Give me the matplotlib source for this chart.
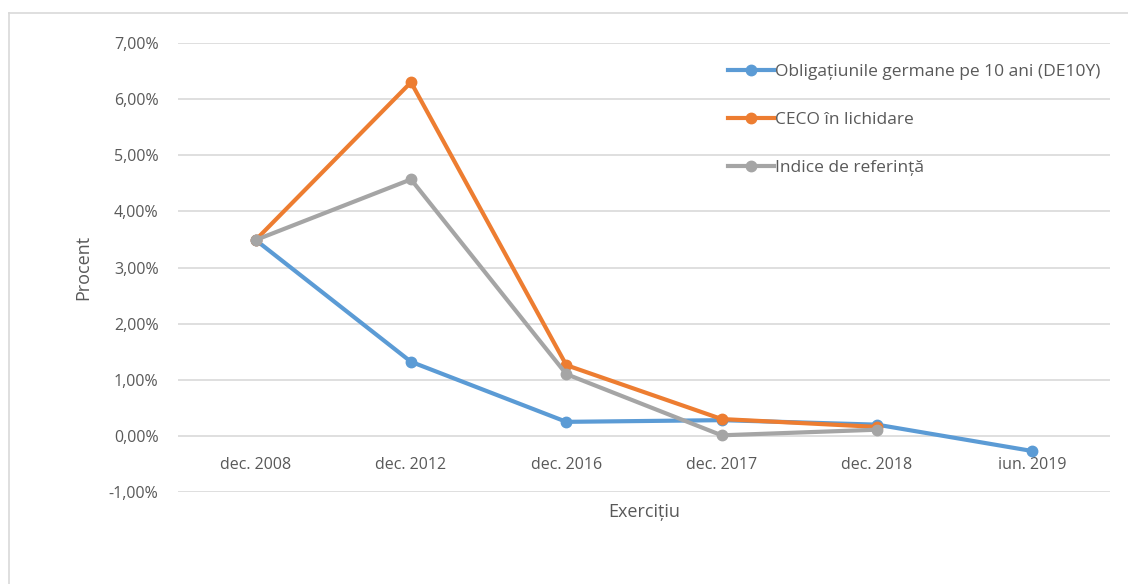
import matplotlib.pyplot as plt
from matplotlib.lines import Line2D
from matplotlib.ticker import FuncFormatter

plt.rcParams['font.family'] = ['Open Sans', 'DejaVu Sans']

# data (percent)
periods = ["dec. 2008", "dec. 2012", "dec. 2016", "dec. 2017", "dec. 2018", "iun. 2019"]
de10y = [3.49, 1.32, 0.25, 0.28, 0.20, -0.27]
ceco = [3.49, 6.30, 1.26, 0.30, 0.16]
benchmark = [3.49, 4.57, 1.10, 0.01, 0.11]

labels = ["Obligațiunile germane pe 10 ani (DE10Y)", "CECO în lichidare", "Indice de referință"]
colors = ["#5b9bd5", "#ed7d31", "#a5a5a5"]

fig = plt.figure(figsize=(11.28, 5.84), dpi=100)
ax = fig.add_axes([178/1128, 1 - 492/584, 932/1128, 449/584])

# outer chart border (only top/left visible in the reference)
fig.add_artist(Line2D([9/1128, 9/1128], [0, 1 - 13/584], color="#d9d9d9", lw=1.2))
fig.add_artist(Line2D([9/1128, 1], [1 - 13/584, 1 - 13/584], color="#d9d9d9", lw=1.2))

x = list(range(len(periods)))
series = [de10y, ceco, benchmark]
for vals, lab, col in zip(series, labels, colors):
    ax.plot(x[:len(vals)], vals, color=col, lw=3, marker="o", ms=7.5, label=lab,
            solid_joinstyle="round", zorder=3)

ax.set_xlim(-0.5, len(periods) - 0.5)
ax.set_ylim(-1, 7)
ax.set_yticks(range(-1, 8))
ax.yaxis.set_major_formatter(FuncFormatter(lambda v, p: f"{v:.2f}%".replace(".", ",")))
ax.set_xticks(x)
ax.set_xticklabels(periods)
ax.grid(axis="y", color="#d9d9d9", lw=1.2)
ax.set_axisbelow(True)
for s in ax.spines.values():
    s.set_visible(False)
# category labels sit at the zero line, like in Excel
ax.spines["bottom"].set_position(("data", 0))
ax.tick_params(length=0, colors="#595959", labelsize=11.5)
ax.tick_params(axis="y", pad=14)
ax.tick_params(axis="x", pad=15)

ax.set_xlabel("Exercițiu", color="#595959", fontsize=13)
ax.xaxis.set_label_coords(0.5, -0.025)
ax.set_ylabel("Procent", color="#595959", fontsize=13, labelpad=12)

leg = ax.legend(loc="upper left", bbox_to_anchor=(719/1128, 1 - 55/584),
                bbox_transform=fig.transFigure, frameon=False, fontsize=12.5,
                handlelength=2.65, handletextpad=0.1, labelspacing=1.85, borderpad=0)
for t in leg.get_texts():
    t.set_color("#595959")

fig.savefig("out.png", dpi=100)
